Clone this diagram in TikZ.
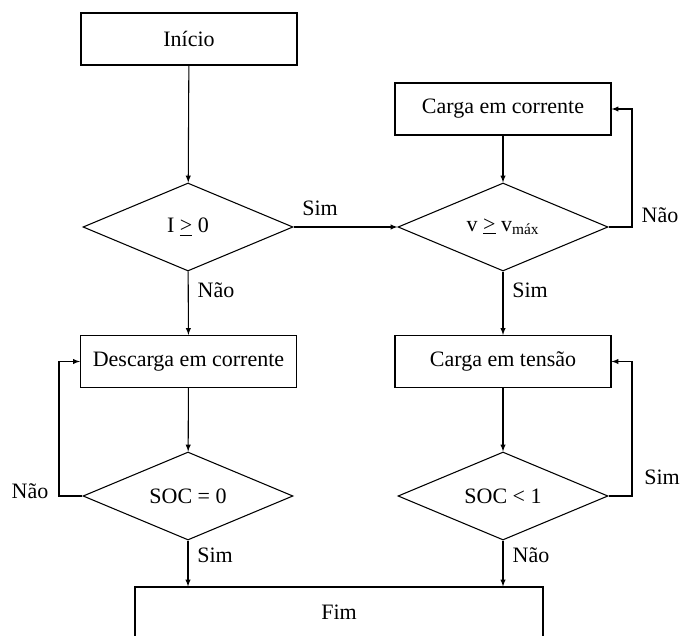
\documentclass[tikz,border=0pt]{standalone}
\usepackage{fontspec}
\setmainfont{Liberation Serif}
\usetikzlibrary{shapes.geometric}

\tikzset{every picture/.style={line width=0.8pt}}
\tikzset{
  procbox/.style={draw, rectangle, minimum width=162pt, minimum height=39pt, inner sep=0pt, font=\fontsize{16.5}{19}\selectfont},
  testbox/.style={draw, diamond, aspect=2.4, minimum width=157.5pt, minimum height=66pt, inner sep=0pt, font=\fontsize{16.5}{19}\selectfont},
  lbl/.style={inner sep=0pt, font=\fontsize{16.5}{19}\selectfont},
}
\newcommand{\geline}{\underline{>}}

\begin{document}
\begin{tikzpicture}[x=0.75pt,y=0.75pt,yscale=-1,xscale=1]

\useasboundingbox (0,0) rectangle (681,635);
\clip (0,0) rectangle (681,635);

%% ---------------- left column: start and discharge ----------------
\node [procbox] (inicio) at (189,39) {Início};
\node [testbox] (testI) at (188,227) {I \geline{} 0};
\node [procbox] (descarga) at (188.5,361.5) {Descarga em corrente};
\node [testbox] (testSOC0) at (188,496) {SOC = 0};

%% ---------------- right column: charge ----------------
\node [procbox] (cargaI) at (503,109) {Carga em corrente};
\node [testbox] (testV) at (503,227) {v \geline{} v\textsubscript{máx}};
\node [procbox] (cargaV) at (503,361.5) {Carga em tensão};
\node [testbox] (testSOC1) at (503,496) {SOC < 1};

%% ---------------- end ----------------
\node [procbox, minimum width=306pt, minimum height=37.5pt] (fim) at (339,612) {Fim};

%% ---------------- connectors ----------------
\draw [-latex] (inicio) -- (testI) ;
\draw [-latex] (testI) -- (descarga) ;
\draw [-latex] (descarga) -- (testSOC0) ;
\draw [-latex] (testI.east) -- (testV.west) ;
\draw [-latex] (cargaI) -- (testV) ;
\draw [-latex] (testV) -- (cargaV) ;
\draw [-latex] (cargaV) -- (testSOC1) ;
\draw [-latex] (testSOC0.south) -- (testSOC0.south |- fim.north) ;
\draw [-latex] (testSOC1.south) -- (testSOC1.south |- fim.north) ;

%% loops back
\coordinate (loopL) at (59,496);
\coordinate (loopR1) at (632,227);
\coordinate (loopR2) at (632,496);
\draw [-latex] (testSOC0.west) -- (loopL) |- (descarga.west) ;
\draw [-latex] (testV.east) -- (loopR1) |- (cargaI.east) ;
\draw [-latex] (testSOC1.east) -- (loopR2) |- (cargaV.east) ;

%% ---------------- text ----------------
\node [lbl] (simI) at (320,208) {Sim};
\node [lbl] (naoI) at (216,290) {Não};
\node [lbl] (naoV) at (660,215) {Não};
\node [lbl] (simV) at (530,290) {Sim};
\node [lbl] (naoSOC0) at (30,491) {Não};
\node [lbl] (simSOC0) at (215,555) {Sim};
\node [lbl] (simSOC1) at (662,477) {Sim};
\node [lbl] (naoSOC1) at (531,555) {Não};

\end{tikzpicture}
\end{document}
